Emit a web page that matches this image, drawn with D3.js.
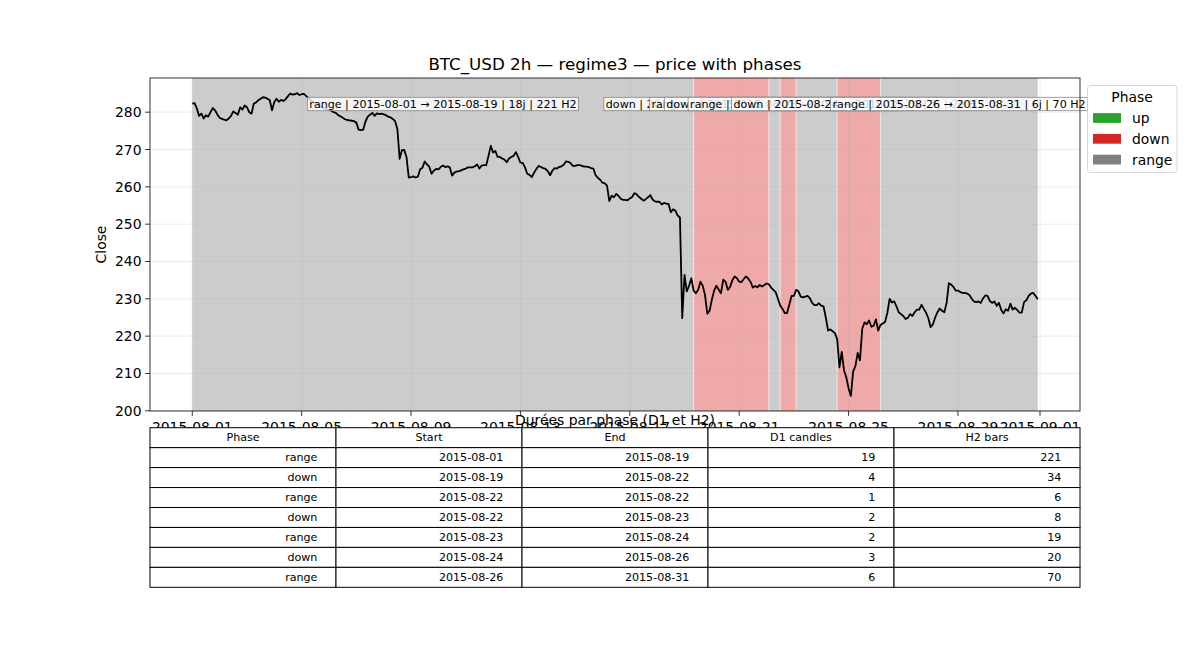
<!DOCTYPE html>
<html><head><meta charset="utf-8">
<script src="https://cdn.jsdelivr.net/npm/d3@7"></script>
<style>body{margin:0;background:#fff} svg{display:block} text{font-family:"DejaVu Sans",sans-serif}</style>
</head><body><svg id="c" width="1200" height="650"></svg>
<script>
// ---------- DATA ----------
const startTime = "2015-08-01T00:00:00Z";
const barHours = 2;
const closes = [
282.3,282.4,281.0,279.0,279.6,278.3,279.2,278.8,280.0,281.1,
280.5,279.4,278.5,278.2,278.0,277.8,278.3,279.0,280.2,279.8,
279.3,281.3,280.7,281.8,281.3,280.0,279.6,282.3,282.6,283.2,
283.6,284.0,283.9,283.6,283.2,280.5,282.7,283.6,282.8,283.3,
283.0,283.5,284.3,285.0,284.7,284.8,285.1,284.6,284.8,284.9,
284.3,283.8,283.2,282.8,282.3,282.0,281.6,281.3,281.0,280.8,
280.6,280.4,280.0,279.8,279.2,278.9,278.5,278.1,277.9,277.8,
277.7,277.6,277.2,275.3,275.2,275.3,277.5,278.8,279.3,279.8,
279.0,279.7,279.5,279.6,279.4,279.2,278.8,278.6,278.2,277.6,
275.5,267.5,269.8,269.9,268.0,262.5,262.6,262.8,262.5,262.7,
264.7,265.1,266.8,266.0,265.4,263.5,264.3,264.8,264.7,265.3,
265.7,265.3,265.5,265.2,263.0,263.8,264.1,264.2,264.4,264.7,
264.9,265.2,265.2,265.2,265.5,266.0,264.9,265.7,265.8,265.8,
268.3,271.0,269.2,269.6,268.0,268.0,267.6,267.3,266.6,267.6,
268.0,268.3,269.3,268.0,266.5,266.4,265.2,263.5,263.2,262.6,
263.8,264.8,265.6,265.3,265.0,264.8,264.2,263.1,264.3,265.0,
264.9,265.3,265.5,265.9,266.8,266.7,266.4,265.6,265.6,265.8,
265.8,265.6,265.4,265.4,265.3,265.0,264.9,263.1,262.4,261.9,
261.1,260.9,260.3,256.2,257.6,257.2,258.1,257.6,256.8,256.5,
256.5,256.4,256.9,257.3,258.3,258.0,257.3,256.8,256.3,256.7,
257.2,257.8,256.6,256.1,256.0,256.0,255.3,255.7,255.5,255.4,
253.2,254.0,253.6,252.3,251.8,224.8,236.4,232.0,233.5,235.5,
232.2,231.5,232.4,234.6,233.5,231.0,226.0,226.8,229.8,232.2,
233.5,232.5,231.5,235.1,234.6,232.4,233.2,235.0,236.0,235.5,
234.6,234.5,235.3,236.0,235.4,234.5,233.0,233.4,233.1,233.7,
233.3,233.7,234.1,233.9,233.0,232.4,231.8,230.0,228.2,227.3,
226.2,226.2,228.5,230.8,230.8,232.4,232.0,230.6,230.4,230.6,
230.8,230.2,228.9,228.3,228.3,228.8,228.2,228.0,225.0,221.5,
221.8,221.3,220.8,219.2,211.6,215.8,210.8,209.0,206.0,204.0,
210.5,212.0,215.5,213.5,222.0,223.7,223.2,224.2,222.5,222.8,
224.5,221.5,223.0,223.4,223.8,226.2,230.0,229.0,229.3,228.0,
226.4,225.9,225.4,224.6,224.9,225.9,225.4,226.4,227.1,227.1,
228.4,227.3,226.3,224.8,222.4,223.2,225.0,226.4,227.4,226.8,
226.4,228.8,234.2,233.8,233.2,232.2,232.2,231.8,231.6,231.6,
231.4,231.0,230.1,229.3,229.1,229.3,228.9,230.1,230.9,230.8,
229.4,228.9,229.3,228.1,228.9,227.0,226.1,227.2,226.8,228.7,
227.1,227.6,227.0,226.3,226.3,229.1,229.6,230.8,231.4,231.6,
230.8,229.9
];
const phaseNames  = ["range","down","range","down","range","down","range"];
const phaseStarts = ["2015-08-01","2015-08-19","2015-08-22","2015-08-22","2015-08-23","2015-08-24","2015-08-26"];
const phaseEnds   = ["2015-08-19","2015-08-22","2015-08-22","2015-08-23","2015-08-24","2015-08-26","2015-08-31"];
const d1Candles   = [19,4,1,2,2,3,6];
const h2Bars      = [221,34,6,8,19,20,70];
const labelDays   = [18,3,0,1,2,2,6];
const xTickLabels = ["2015-08-01","2015-08-05","2015-08-09","2015-08-13","2015-08-17","2015-08-21","2015-08-25","2015-08-29","2015-09-01"];
const yTicks      = [200,210,220,230,240,250,260,270,280];
const legendNames = ["up","down","range"];
const legendColors= ["#2ca02c","#d62728","#808080"];
const tableHeader = ["Phase","Start","End","D1 candles","H2 bars"];
const titleText   = "BTC_USD 2h \u2014 regime3 \u2014 price with phases";
const tableTitle  = "Durées par phase (D1 et H2)";

// ---------- LAYOUT ----------
const svg = d3.select("#c");
const L = 150, R = 1080, T = 78, B = 411;
const colorOf = n => legendColors[legendNames.indexOf(n)];
const t0 = new Date(startTime).getTime();
const HOUR = 3600e3;
const timeAt = i => new Date(t0 + i * barHours * HOUR);
const n = closes.length;
const tMin = timeAt(0), tMax = timeAt(n - 1);
const span = tMax - tMin;
const x = d3.scaleUtc().domain([new Date(+tMin - 0.05 * span), new Date(+tMax + 0.05 * span)]).range([L, R]);
const [yLo, yHi] = d3.extent(closes);
const yPad = 0.05 * (yHi - yLo);
const y = d3.scaleLinear().domain([yLo - yPad, yHi + yPad]).range([B, T]);

// phases as bar-index ranges (boundary bar shared)
const phases = [];
{ let s = 0;
  h2Bars.forEach((b, k) => { const e = s + b - 1; phases.push({k, s, e, name: phaseNames[k]}); s = e; }); }

const defs = svg.append("defs");
defs.append("clipPath").attr("id", "clip").append("rect").attr("x", L).attr("y", T).attr("width", R - L).attr("height", B - T);
const plot = svg.append("g").attr("clip-path", "url(#clip)");

// spans
plot.selectAll("rect.span").data(phases).join("rect")
  .attr("class", "span")
  .attr("x", d => x(timeAt(d.s))).attr("width", d => x(timeAt(d.e)) - x(timeAt(d.s)))
  .attr("y", T).attr("height", B - T)
  .attr("fill", d => colorOf(d.name)).attr("fill-opacity", 0.4);
plot.selectAll("line.edge").data(phases.slice(1)).join("line")
  .attr("x1", d => x(timeAt(d.s))).attr("x2", d => x(timeAt(d.s)))
  .attr("y1", T).attr("y2", B).attr("stroke", "#fff").attr("stroke-opacity", 0.5).attr("stroke-width", 1.2);

// grid
const xTickDates = xTickLabels.map(s => new Date(s + "T00:00:00Z"));
plot.selectAll("line.gx").data(xTickDates).join("line")
  .attr("x1", d => x(d)).attr("x2", d => x(d)).attr("y1", T).attr("y2", B)
  .attr("stroke", "#b0b0b0").attr("stroke-opacity", 0.3).attr("stroke-width", 0.8);
plot.selectAll("line.gy").data(yTicks).join("line")
  .attr("x1", L).attr("x2", R).attr("y1", d => y(d)).attr("y2", d => y(d))
  .attr("stroke", "#b0b0b0").attr("stroke-opacity", 0.3).attr("stroke-width", 0.8);

// price line
const line = d3.line().x((d, i) => x(timeAt(i))).y(d => y(d));
plot.append("path").datum(closes).attr("d", line)
  .attr("fill", "none").attr("stroke", "#000").attr("stroke-width", 1.8).attr("stroke-linejoin", "round");

// phase labels
const labY = 104;
phases.forEach(p => {
  const cx = (x(timeAt(p.s)) + x(timeAt(p.e))) / 2;
  const txt = `${p.name} | ${phaseStarts[p.k]} \u2192 ${phaseEnds[p.k]} | ${labelDays[p.k]}j | ${h2Bars[p.k]} H2`;
  const g = svg.append("g");
  const r = g.append("rect");
  const t = g.append("text").attr("x", cx).attr("y", labY).attr("text-anchor", "middle")
    .attr("dominant-baseline", "central").attr("font-size", 11.1).attr("fill", "#000").text(txt);
  const bb = t.node().getBBox();
  r.attr("x", bb.x - 2).attr("y", labY - 6.7).attr("width", bb.width + 4).attr("height", 13.4)
    .attr("fill", "#fff").attr("fill-opacity", 0.8).attr("stroke", "#888").attr("stroke-width", 0.8);
});

// frame
svg.append("rect").attr("x", L).attr("y", T).attr("width", R - L).attr("height", B - T)
  .attr("fill", "none").attr("stroke", "#000").attr("stroke-width", 0.8);

// y axis
const yAx = svg.append("g");
yTicks.forEach(v => {
  yAx.append("line").attr("x1", L - 4.9).attr("x2", L).attr("y1", y(v)).attr("y2", y(v)).attr("stroke", "#000").attr("stroke-width", 0.8);
  yAx.append("text").attr("x", L - 8.5).attr("y", y(v)).attr("text-anchor", "end").attr("dominant-baseline", "central")
    .attr("font-size", 13.9).text(v);
});
svg.append("text").attr("transform", `translate(101,${(T + B) / 2}) rotate(-90)`).attr("text-anchor", "middle")
  .attr("dominant-baseline", "central").attr("font-size", 13.9).text("Close");

// x axis
const xAx = svg.append("g");
xTickDates.forEach((d, i) => {
  xAx.append("line").attr("x1", x(d)).attr("x2", x(d)).attr("y1", B).attr("y2", B + 4.9).attr("stroke", "#000").attr("stroke-width", 0.8);
  xAx.append("text").attr("x", x(d)).attr("y", B + 20.5).attr("text-anchor", "middle")
    .attr("font-size", 13.9).text(xTickLabels[i]);
});

// title
svg.append("text").attr("x", (L + R) / 2).attr("y", 70).attr("text-anchor", "middle").attr("font-size", 16.7).text(titleText);

// legend
const lg = svg.append("g");
lg.append("rect").attr("x", 1087.5).attr("y", 85.5).attr("width", 89.5).attr("height", 87).attr("rx", 3)
  .attr("fill", "#fff").attr("fill-opacity", 0.8).attr("stroke", "#cccccc").attr("stroke-width", 0.8);
lg.append("text").attr("x", 1132).attr("y", 102).attr("text-anchor", "middle").attr("font-size", 13.9).text("Phase");
legendNames.forEach((nm, i) => {
  const cy = 118 + i * 20.8;
  lg.append("rect").attr("x", 1093).attr("y", cy - 4.9).attr("width", 28).attr("height", 9.8).attr("fill", legendColors[i]);
  lg.append("text").attr("x", 1132).attr("y", cy).attr("dominant-baseline", "central").attr("font-size", 13.9).text(nm);
});

// table
const tTop = 427.7, rowH = 19.95, colW = (R - L) / tableHeader.length;
const tg = svg.append("g");
const rows = [tableHeader].concat(phaseNames.map((p, k) => [p, phaseStarts[k], phaseEnds[k], d1Candles[k], h2Bars[k]]));
rows.forEach((row, r) => {
  row.forEach((val, c) => {
    const cx0 = L + c * colW, cy0 = tTop + r * rowH;
    tg.append("rect").attr("x", cx0).attr("y", cy0).attr("width", colW).attr("height", rowH)
      .attr("fill", "#fff").attr("stroke", "#000").attr("stroke-width", 1);
    const t = tg.append("text").attr("y", cy0 + rowH / 2).attr("dominant-baseline", "central").attr("font-size", 11.1).text(val);
    if (r === 0) t.attr("x", cx0 + colW / 2).attr("text-anchor", "middle");
    else t.attr("x", cx0 + colW - 18.6).attr("text-anchor", "end");
  });
});
svg.append("text").attr("x", (L + R) / 2).attr("y", 424.5).attr("text-anchor", "middle").attr("font-size", 13.9).text(tableTitle);
</script></body></html>
